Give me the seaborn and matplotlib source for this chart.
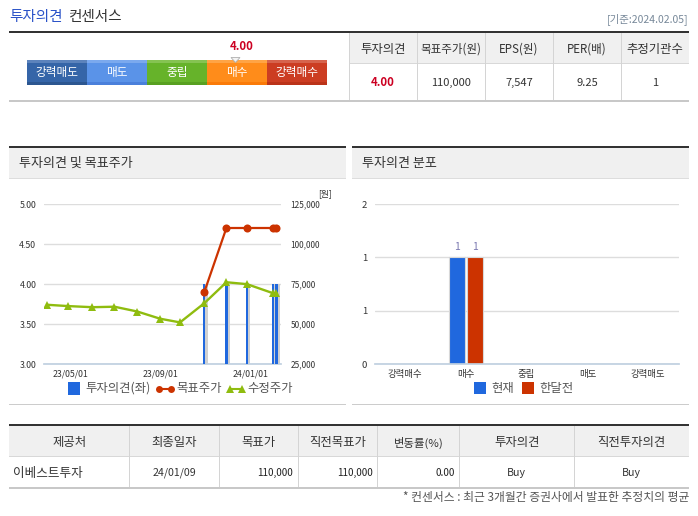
import matplotlib
matplotlib.use("Agg")
import matplotlib.pyplot as plt
import matplotlib.dates as mdates
from matplotlib.patches import Rectangle, Polygon
from matplotlib.lines import Line2D
import seaborn as sns
import pandas as pd

# ---- data ----
dates = ["2023-03-31","2023-04-28","2023-05-31","2023-06-30","2023-07-31","2023-08-31",
         "2023-09-27","2023-10-30","2023-11-29","2023-12-27","2024-01-31","2024-02-05"]
price = [62000,61200,60500,60800,57800,53300,51000,63000,76100,74900,69300,69300]
target = [None,None,None,None,None,None,None,70000,110000,110000,110000,110000]
opinion = [None,None,None,None,None,None,None,4,4,4,4,4]
dist_cats = ["강력매수","매수","중립","매도","강력매도"]
dist_now = [0,1,0,0,0]
dist_prev = [0,1,0,0,0]
gauge_labels = ["강력매도","매도","중립","매수","강력매수"]
gauge_score = "4.00"
top_head = ["투자의견","목표주가(원)","EPS(원)","PER(배)","추정기관수"]
top_row = ["4.00","110,000","7,547","9.25","1"]
bot_head = ["제공처","최종일자","목표가","직전목표가","변동률(%)","투자의견","직전투자의견"]
bot_row = ["이베스트투자","24/01/09","110,000","110,000","0.00","Buy","Buy"]

sns.set_theme(style="white")
plt.rcParams['font.family'] = ['Noto Sans CJK KR', 'DejaVu Sans']
W, H = 698, 516
fig = plt.figure(figsize=(W/100, H/100), dpi=100, facecolor="white")

def axpx(x0, y0, x1, y1, **kw):
    return fig.add_axes([x0/W, 1-y1/H, (x1-x0)/W, (y1-y0)/H], **kw)

# ---- page furniture in pixel coords ----
bg = fig.add_axes([0,0,1,1]); bg.set_xlim(0,W); bg.set_ylim(H,0); bg.axis("off")
def rect(x0,y0,x1,y1,c): bg.add_patch(Rectangle((x0,y0),x1-x0,y1-y0,fc=c,ec="none",lw=0))
def hl(y,x0,x1,c,lw=1): rect(x0,y-lw/2,x1,y+lw/2,c)
def vl(x,y0,y1,c="#d4d4d4"): rect(x-.5,y0,x+.5,y1,c)
def txt(x,y,s,size=8.2,c="#333333",ha="center",**k):
    return bg.text(x,y,s,fontsize=size,color=c,ha=ha,va="center",**k)

txt(9,17.5,"투자의견",10.5,"#2a52c8",ha="left")
txt(69,17.5,"컨센서스",10.5,"#333333",ha="left")
txt(689,19,"[기준:2024.02.05]",7.5,"#778899",ha="right")
hl(32,9,689,"#333333",2)
hl(100.5,9,689,"#c8c8c8",2)

# gauge
gc = ["#3565a8","#5a93e8","#66b32a","#ff8c1a","#cc3d22"]
gt = ["#5c83bc","#7ba9ee","#85c352","#ffa445","#d6634c"]
gb = ["#2c5690","#4a80db","#58a021","#fa7a08","#bb3319"]
for i,l in enumerate(gauge_labels):
    x0 = 27+60*i
    rect(x0,60,x0+60,85,gc[i]); rect(x0,60,x0+60,63,gt[i]); rect(x0,82,x0+60,85,gb[i])
    txt(x0+30,72.5,l,8.4,"white")
bg.add_patch(Polygon([[231,57.5],[240,57.5],[235.5,62.5]],fc="#f4f4f4",ec="#b0b0b0",lw=.6,zorder=4))
txt(242,46,gauge_score,8.2,"#cc0022",fontweight="bold")

# top table
xs = [349,417,485,553,621,689]
rect(349,33,689,63,"#f0f0f0")
hl(63.5,349,689,"#d8d8d8")
for x in xs[:-1]: vl(x,33,100)
for i,(h,r) in enumerate(zip(top_head,top_row)):
    cx=(xs[i]+xs[i+1])/2
    txt(cx,49.5,h,8.9 if i in (0,4) else 8.3)
    if i==0: txt(cx,82.5,r,8.2,"#cc0022",fontweight="bold")
    else: txt(cx,82.5,r,8,"#333333")

# chart panels
for x0,x1,t,tx in [(9,346,"투자의견 및 목표주가",19),(352,689,"투자의견 분포",362)]:
    rect(x0,148,x1,178,"#f0f0f0")
    hl(147,x0,x1,"#333333",2)
    hl(178.5,x0,x1,"#dddddd")
    hl(404.5,x0,x1,"#cccccc")
    txt(tx,163,t,9.4,"#333333",ha="left")

# bottom table
bx = [9,129.6,219.5,298,377.5,459.4,574,689]
rect(9,426,689,456,"#f0f0f0")
hl(425,9,689,"#333333",2)
hl(456.5,9,689,"#d8d8d8")
hl(488,9,689,"#c8c8c8",2)
for x in bx[1:-1]: vl(x,426,487)
for i,(h,r) in enumerate(zip(bot_head,bot_row)):
    cx=(bx[i]+bx[i+1])/2
    txt(cx,442.5,h,8.9 if i!=4 else 8.2)
    if i==0: txt(13,473,r,9.1,ha="left")
    elif i in (2,3,4): txt(bx[i+1]-5,473,r,7.2,"#222222",ha="right")
    else: txt(cx,473,r,7.6)
txt(689,497.5,"* 컨센서스 : 최근 3개월간 증권사에서 발표한 추정치의 평균",8.5,"#555555",ha="right")

# ---- left chart ----
df = pd.DataFrame({"date":pd.to_datetime(dates),"price":price,"target":target,"opinion":opinion})
ax = axpx(44,204,281,364); ax.patch.set_alpha(0)
d0 = mdates.date2num(pd.Timestamp("2023-05-01"))
px_per_day = (250.7-70.3)/245
ax.set_xlim(d0-(70.3-44)/px_per_day, d0+(281-70.3)/px_per_day)
ax.set_ylim(3,5)
ax.set_yticks([3,3.5,4,4.5,5]); ax.set_yticklabels(["3.00","3.50","4.00","4.50","5.00"])
ax.yaxis.grid(True,color="#dddddd",lw=1); ax.set_axisbelow(True)
op = df.dropna(subset=["opinion"])
nums = mdates.date2num(op["date"])
ax.bar(nums+2.7,op["opinion"]-3,bottom=3,width=3.4,color="#d0d0d0",lw=0,zorder=2)
ax.bar(nums,op["opinion"]-3,bottom=3,width=3.0,color="#2068de",lw=0,zorder=3)
ax.set_xticks([mdates.date2num(pd.Timestamp(d)) for d in ["2023-05-01","2023-09-01","2024-01-01"]])
ax.xaxis.set_major_formatter(mdates.DateFormatter("%y/%m/%d"))
ax.tick_params(axis="x",length=3.6,width=.8,color="#c0d0e0",labelsize=6.3,labelcolor="#333333",pad=.5)
ax.tick_params(axis="y",length=0,labelsize=6.3,labelcolor="#333333",pad=5.6)
for s in ["top","left","right"]: ax.spines[s].set_visible(False)
ax.spines["bottom"].set_color("#c0d0e0")
ax.set_xlabel(""); ax.set_ylabel("")

ax2 = ax.twinx(); ax2.patch.set_alpha(0)
ax2.set_ylim(25000,125000)
sns.lineplot(data=df.dropna(subset=["target"]),x="date",y="target",ax=ax2,color="#cc3300",lw=1.6,
             marker="o",markersize=5.8,markeredgewidth=0,zorder=5,legend=False,errorbar=None)
sns.lineplot(data=df,x="date",y="price",ax=ax2,color="#8fbc0f",lw=1.7,
             marker="^",markersize=6,markeredgewidth=0,zorder=6,legend=False,errorbar=None)
ax2.set_xlabel(""); ax2.set_ylabel("")
ax2.set_yticks([25000,50000,75000,100000,125000])
ax2.set_yticklabels(["25,000","50,000","75,000","100,000","125,000"])
ax2.tick_params(axis="y",length=0,labelsize=6.0,labelcolor="#333333",pad=7)
ax2.grid(False)
for s in ["top","left","right","bottom"]: ax2.spines[s].set_visible(False)
txt(325,193.5,"[원]",6.3,"#333333")

# left legend
rect(68,382,80,395,"#2068de"); txt(85,388.5,"투자의견(좌)",8.9,"#555555",ha="left")
bg.add_line(Line2D([159,171],[388.5,388.5],color="#cc3300",lw=1.5,marker="o",ms=5,mew=0))
txt(176,388.5,"목표주가",8.9,"#555555",ha="left")
bg.add_line(Line2D([230,242],[388.5,388.5],color="#8fbc0f",lw=1.5,marker="^",ms=6,mew=0))
txt(247,388.5,"수정주가",8.9,"#555555",ha="left")

# ---- right chart ----
dd = pd.DataFrame({"cat":dist_cats*2,"v":dist_now+dist_prev,"s":["현재"]*5+["한달전"]*5})
ax3 = axpx(374.7,204,678.5,364); ax3.patch.set_alpha(0)
sns.barplot(data=dd,x="cat",y="v",hue="s",order=dist_cats,palette=["#2068de","#cc3300"],
            ax=ax3,width=.58,gap=.1,legend=False,saturation=1,edgecolor="#d8d8d8",linewidth=.8,errorbar=None)
ax3.set_xlim(-.5,4.5); ax3.set_ylim(0,1.5)
ax3.set_xlabel(""); ax3.set_ylabel("")
ax3.set_yticks([0,.5,1,1.5]); ax3.set_yticklabels(["0","1","1","2"])
ax3.yaxis.grid(True,color="#dddddd",lw=1); ax3.set_axisbelow(True)
for b in ax3.patches:
    if b.get_height()>0:
        ax3.annotate("1",(b.get_x()+b.get_width()/2,b.get_height()),xytext=(0,3.5),
                     textcoords="offset points",ha="center",va="bottom",fontsize=7.4,color="#7a78b0")
ax3.set_xticks([-.5,.5,1.5,2.5,3.5,4.5],minor=False)
ax3.set_xticklabels([])
ax3.set_xticks(range(5),labels=dist_cats,minor=True)
ax3.tick_params(axis="x",which="major",length=3.6,width=.8,color="#c0d0e0")
ax3.tick_params(axis="x",which="minor",length=0,labelsize=6.8,labelcolor="#333333",pad=4)
ax3.tick_params(axis="y",length=0,labelsize=6.8,labelcolor="#333333",pad=5.5)
for s in ["top","left","right"]: ax3.spines[s].set_visible(False)
ax3.spines["bottom"].set_color("#c0d0e0")

rect(474,382,486,394,"#2068de"); txt(491,388.5,"현재",8.9,"#555555",ha="left")
rect(522,382,534,394,"#cc3300"); txt(539.5,388.5,"한달전",8.9,"#555555",ha="left")

fig.savefig("out.png",dpi=100,facecolor="white")
